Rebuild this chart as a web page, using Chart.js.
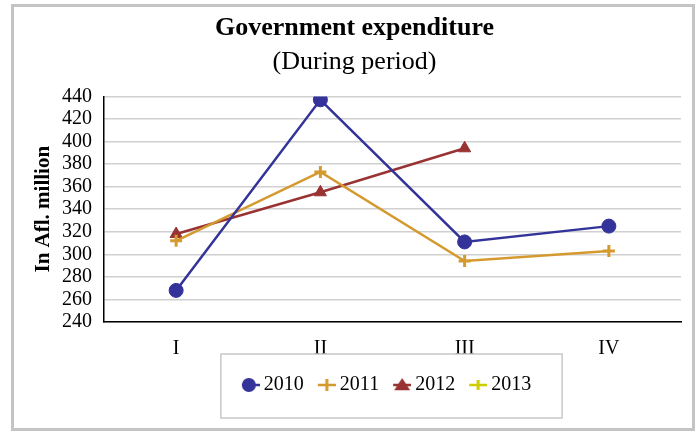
<!DOCTYPE html>
<html>
<head>
<meta charset="utf-8">
<style>
  html, body { margin: 0; padding: 0; background: #fff; }
  #wrap { width: 697px; height: 432px; }
</style>
<script src="https://cdn.jsdelivr.net/npm/chart.js@4"></script>
</head>
<body>
<div id="wrap"><canvas id="chart" width="697" height="432"></canvas></div>
<script>
// === Data ===
var categories = ['I', 'II', 'III', 'IV'];
var years = ['2010', '2011', '2012', '2013'];
var values2010 = [268, 437, 311, 325];
var values2011 = [312, 373, 294, 303];
var values2012 = [318, 355, 394, null];
var values2013 = [null, null, null, null];
var yTicks = [240, 260, 280, 300, 320, 340, 360, 380, 400, 420, 440];

var colors = ['#333399', '#d49a2f', '#993333', '#cccc00'];
var styles = ['circle', 'cross', 'triangle', 'cross'];
var radii = [7, 6, 7, 5];
var serif = '"Liberation Serif", "Times New Roman", serif';

// legend spacing: marker canvas wider than the point box so text sits close
var LEG_PAD = 0;
var LEG_MARK = 18;                    // visible marker width
var LEG_BOX = 13 + 13 - LEG_PAD;      // point box width given to Chart.js
var LEG_IMG = LEG_BOX + 12;           // canvas width (text gap ~4px)
var LEG_SHIFT = 13;                   // legend sits a bit left of the plot centre

// small canvas used as the legend marker: line with the point on it
function legendMarker(color, style, r) {
    var c = document.createElement('canvas');
    c.width = LEG_IMG; c.height = 16;
    var g = c.getContext('2d');
    var x0 = LEG_IMG - LEG_MARK, cx = x0 + LEG_MARK / 2;
    g.strokeStyle = color;
    g.fillStyle = color;
    g.lineWidth = 2.5;
    g.beginPath();
    g.moveTo(x0, 8); g.lineTo(LEG_IMG, 8);
    g.stroke();
    if (style === 'circle') {
        cx = x0 + r;
        g.beginPath(); g.arc(cx, 8, r, 0, Math.PI * 2); g.fill();
    } else if (style === 'triangle') {
        g.beginPath();
        g.moveTo(cx, 8 - r); g.lineTo(cx + r + 1, 8 + r * 0.75); g.lineTo(cx - r - 1, 8 + r * 0.75);
        g.closePath(); g.fill();
    } else {
        g.lineWidth = 3;
        g.beginPath();
        g.moveTo(cx, 8 - r); g.lineTo(cx, 8 + r);
        g.stroke();
    }
    return c;
}

var seriesValues = [values2010, values2011, values2012, values2013];
var datasets = years.map(function(y, i) {
    return {
        label: y,
        data: seriesValues[i],
        borderColor: colors[i],
        backgroundColor: colors[i],
        borderWidth: 2.5,
        pointStyle: styles[i],
        pointRadius: radii[i],
        pointHoverRadius: radii[i],
        pointBorderWidth: styles[i] === 'cross' ? 3 : 1,
        spanGaps: false,
        tension: 0
    };
});

var framePlugin = {
    id: 'frame',
    afterLayout: function(chart) {
        chart.legend.left -= LEG_SHIFT;
        chart.legend.right -= LEG_SHIFT;
    },
    beforeDraw: function(chart) {
        var ctx = chart.ctx;
        ctx.save();
        ctx.fillStyle = '#fff';
        ctx.fillRect(0, 0, chart.width, chart.height);
        ctx.strokeStyle = '#c4c4c4';
        ctx.lineWidth = 3;
        ctx.strokeRect(12.5, 5.5, 681, 424);
        ctx.restore();
    },
    afterDraw: function(chart) {
        var boxes = chart.legend.legendHitBoxes;
        if (!boxes || !boxes.length) return;
        var first = boxes[0], last = boxes[boxes.length - 1];
        var ctx = chart.ctx;
        var cy = first.top + first.height / 2;
        // visible marker starts where the image overhangs the point box
        var markLeft = first.left + LEG_BOX / 2 + LEG_IMG / 2 - LEG_MARK;
        var x0 = markLeft - 21;
        var x1 = last.left + last.width + 31;
        ctx.save();
        ctx.strokeStyle = '#c8c8c8';
        ctx.lineWidth = 1.5;
        ctx.strokeRect(x0, cy - 31, x1 - x0, 64);
        ctx.restore();
    }
};

var markers = years.map(function(y, i) { return legendMarker(colors[i], styles[i], radii[i]); });

new Chart(document.getElementById('chart'), {
    type: 'line',
    data: { labels: categories, datasets: datasets },
    plugins: [framePlugin],
    options: {
        responsive: false,
        animation: false,
        layout: { padding: { left: 28, right: 16, top: 10, bottom: 27 } },
        plugins: {
            title: {
                display: true,
                text: 'Government expenditure',
                color: '#000',
                font: { family: serif, size: 26, weight: 'bold' },
                padding: { top: 3, bottom: 2 }
            },
            subtitle: {
                display: true,
                text: '(During period)',
                color: '#000',
                font: { family: serif, size: 26 },
                padding: { top: 0, bottom: 19 }
            },
            legend: {
                position: 'bottom',
                fullSize: false,
                labels: {
                    color: '#000',
                    font: { family: serif, size: 20 },
                    usePointStyle: true,
                    pointStyleWidth: LEG_BOX,
                    padding: LEG_PAD,
                    generateLabels: function(chart) {
                        return chart.data.datasets.map(function(ds, i) {
                            return {
                                text: ds.label,
                                pointStyle: markers[i],
                                fillStyle: ds.backgroundColor,
                                strokeStyle: ds.borderColor,
                                lineWidth: 0,
                                fontColor: '#000',
                                datasetIndex: i
                            };
                        });
                    }
                }
            },
            tooltip: { enabled: false }
        },
        scales: {
            x: {
                offset: true,
                afterFit: function(scale) { scale.height = 53; },
                grid: { display: false, drawTicks: false },
                border: { display: true, color: '#000', width: 1.5 },
                ticks: { color: '#000', padding: 15, font: { family: serif, size: 20 } }
            },
            y: {
                min: yTicks[0],
                max: yTicks[yTicks.length - 1],
                afterBuildTicks: function(scale) {
                    scale.ticks = yTicks.map(function(v) { return { value: v }; });
                },
                afterFit: function(scale) { scale.width = 76; },
                grid: { color: '#d0d0d0', lineWidth: 1.5, drawTicks: false },
                border: { display: true, color: '#000', width: 1.5 },
                ticks: { color: '#000', padding: 12, autoSkip: false, font: { family: serif, size: 20 } },
                title: {
                    display: true,
                    text: 'In Afl. million',
                    color: '#000',
                    font: { family: serif, size: 21, weight: 'bold' },
                    padding: { top: 3, bottom: 0 }
                }
            }
        }
    }
});
</script>
</body>
</html>
